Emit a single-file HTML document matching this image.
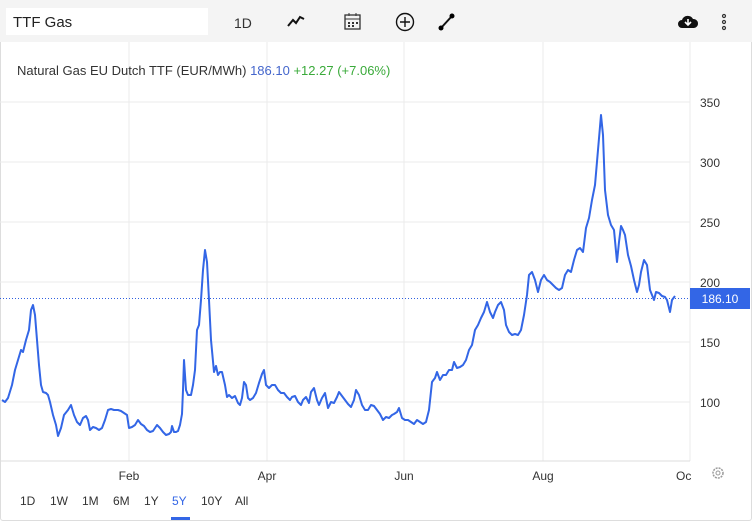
<!DOCTYPE html>
<html><head><meta charset="utf-8"><style>
body{margin:0;width:752px;height:521px;overflow:hidden;background:#fff;font-family:"Liberation Sans",sans-serif;}
.wrap{position:absolute;left:0;top:0;width:750px;height:519px;border:1px solid #ddd;border-radius:3px;}
.tb{position:absolute;left:0;top:0;width:752px;height:42px;background:#f4f4f4;}
.search{position:absolute;left:6px;top:8px;width:202px;height:27px;background:#fff;font-size:15px;line-height:29px;padding-left:7px;box-sizing:border-box;color:#222;}
.t{position:absolute;font-size:13px;color:#333;}
</style></head><body>
<div class="wrap"></div>
<div class="tb">
<div class="search">TTF Gas</div>
<div class="t" style="left:234px;top:15px;font-size:14px">1D</div>
<svg style="position:absolute;left:286px;top:14px" width="20" height="14"><polyline points="2,12 7,6 10,9 14,3 18,5" fill="none" stroke="#111" stroke-width="2"/></svg>
<svg style="position:absolute;left:343px;top:11px" width="20" height="20"><rect x="2" y="4" width="15" height="14" fill="none" stroke="#333" stroke-width="1.3"/><line x1="2" y1="8" x2="17" y2="8" stroke="#333"/><line x1="6" y1="2" x2="6" y2="5" stroke="#333"/><line x1="13" y1="2" x2="13" y2="5" stroke="#333"/><g fill="#333"><rect x="5" y="11" width="2" height="2"/><rect x="9" y="11" width="2" height="2"/><rect x="13" y="11" width="2" height="2"/><rect x="5" y="14" width="2" height="2"/><rect x="9" y="14" width="2" height="2"/></g></svg>
<svg style="position:absolute;left:395px;top:12px" width="20" height="20"><circle cx="10" cy="10" r="8.5" fill="none" stroke="#111" stroke-width="1.4"/><path d="M10 5v10M5 10h10" stroke="#111" stroke-width="1.4"/></svg>
<svg style="position:absolute;left:437px;top:12px" width="20" height="20"><line x1="4" y1="16" x2="15" y2="4" stroke="#111" stroke-width="2"/><circle cx="4" cy="16" r="2.5"/><circle cx="15" cy="4" r="2.5"/></svg>
<svg style="position:absolute;left:677px;top:13px" width="22" height="18"><path d="M5 15a4 4 0 0 1 0-8a6 6 0 0 1 11-1a4.5 4.5 0 0 1 1 9z" fill="#111"/><path d="M11 6v6M8 9l3 3l3-3" stroke="#fff" stroke-width="1.6" fill="none"/></svg>
<svg style="position:absolute;left:720px;top:12px" width="8" height="20"><g fill="none" stroke="#333" stroke-width="1.2"><circle cx="4" cy="4" r="1.5"/><circle cx="4" cy="10" r="1.5"/><circle cx="4" cy="16" r="1.5"/></g></svg>
</div>
<svg style="position:absolute;left:0;top:0" width="752" height="521">
<g stroke="#ebebeb" stroke-width="1">
<line x1="129" y1="42" x2="129" y2="461"/><line x1="267" y1="42" x2="267" y2="461"/><line x1="404" y1="42" x2="404" y2="461"/><line x1="543" y1="42" x2="543" y2="461"/><line x1="690" y1="42" x2="690" y2="461"/>
<line x1="0" y1="102" x2="690" y2="102"/><line x1="0" y1="162" x2="690" y2="162"/><line x1="0" y1="222" x2="690" y2="222"/><line x1="0" y1="282" x2="690" y2="282"/><line x1="0" y1="342" x2="690" y2="342"/><line x1="0" y1="402" x2="690" y2="402"/>
<line x1="0" y1="461" x2="690" y2="461" stroke="#ddd"/>
</g>
<line x1="0" y1="298.5" x2="690" y2="298.5" stroke="#3060e0" stroke-dasharray="1,2"/>
<polyline fill="none" stroke="#3366e6" stroke-width="2" stroke-linejoin="round" points="2,400 5,402 8,398 12,385 15,370 18,360 21,350 23,352 26,340 29,330 31,310 33,305 35,315 37,340 39,365 41,385 43,392 46,393 48,395 50,402 53,415 56,425 58,436 61,428 64,415 68,410 71,405 74,415 77,422 80,425 83,418 86,416 88,420 90,430 93,427 96,428 99,430 102,428 105,420 108,410 111,409 114,410 118,410 121,411 124,413 127,415 129,428 132,427 135,425 138,420 141,424 144,426 147,430 150,432 153,431 155,428 157,425 160,428 163,432 166,435 169,434 171,432 172,426 174,432 176,432 178,431 180,425 182,414 183,390 184,360 186,390 188,395 191,395 193,385 195,370 197,330 199,325 201,300 203,270 205,250 207,262 209,300 211,340 214,372 216,366 218,375 220,372 222,372 225,385 227,397 229,395 232,398 235,396 238,403 240,405 242,398 244,382 246,385 248,398 250,400 253,398 256,393 259,383 262,374 264,370 266,385 269,388 272,385 275,385 278,390 281,393 284,393 287,397 290,400 292,397 295,396 298,402 301,405 303,400 306,397 309,403 311,392 314,388 317,400 319,405 322,398 325,393 328,408 331,402 334,403 337,397 339,392 342,396 345,400 348,404 351,407 354,400 356,390 359,395 362,405 365,410 368,410 371,405 374,406 377,410 380,414 383,420 386,417 389,418 392,415 394,414 397,412 399,408 402,418 405,420 408,420 411,422 414,424 417,420 420,422 423,424 426,422 429,410 432,382 435,378 437,372 440,380 443,375 446,375 449,370 452,370 454,362 457,368 460,367 463,365 466,360 469,350 472,345 475,330 478,325 481,318 484,312 487,302 490,312 493,318 495,312 498,305 501,302 504,310 506,325 509,332 512,335 515,334 518,335 521,330 524,315 527,295 529,275 532,272 535,280 538,292 541,280 544,275 547,280 550,282 553,285 556,288 559,290 562,288 565,275 568,270 571,272 574,260 577,250 580,248 583,252 586,228 589,218 592,200 595,185 598,150 601,115 603,135 605,190 608,215 611,225 614,230 617,262 619,242 621,226 623,230 625,235 628,255 631,266 634,280 637,292 639,285 641,272 644,260 647,265 650,290 652,295 654,300 656,292 659,293 662,296 665,297 667,300 670,312 672,300 675,296"/>
<g font-size="12" fill="#333" font-family="Liberation Sans, sans-serif">
<text x="700" y="107">350</text><text x="700" y="167">300</text><text x="700" y="227">250</text><text x="700" y="287">200</text><text x="700" y="347">150</text><text x="700" y="407">100</text>
<text x="129" y="480" text-anchor="middle">Feb</text><text x="267" y="480" text-anchor="middle">Apr</text><text x="404" y="480" text-anchor="middle">Jun</text><text x="543" y="480" text-anchor="middle">Aug</text><text x="676" y="480">Oc</text>
</g>
<rect x="690" y="288" width="60" height="21" fill="#3366e6"/>
<text x="720" y="303" font-size="12" fill="#fff" text-anchor="middle" font-family="Liberation Sans, sans-serif">186.10</text>
<circle cx="718" cy="473" r="5" fill="none" stroke="#999" stroke-width="1.5" stroke-dasharray="2,1"/><circle cx="718" cy="473" r="2" fill="none" stroke="#999"/>
<g font-size="12" fill="#333" font-family="Liberation Sans, sans-serif">
<text x="20" y="505">1D</text><text x="50" y="505">1W</text><text x="82" y="505">1M</text><text x="113" y="505">6M</text><text x="144" y="505">1Y</text><text x="172" y="505" fill="#3366e6">5Y</text><text x="201" y="505">10Y</text><text x="235" y="505">All</text>
</g>
<rect x="171" y="517" width="19" height="3" fill="#3366e6"/>
<text x="17" y="75" font-size="13" font-family="Liberation Sans, sans-serif" fill="#333">Natural Gas EU Dutch TTF (EUR/MWh) <tspan fill="#4466cc">186.10</tspan> <tspan fill="#3aaa3a">+12.27 (+7.06%)</tspan></text>
</svg>
</body></html>
